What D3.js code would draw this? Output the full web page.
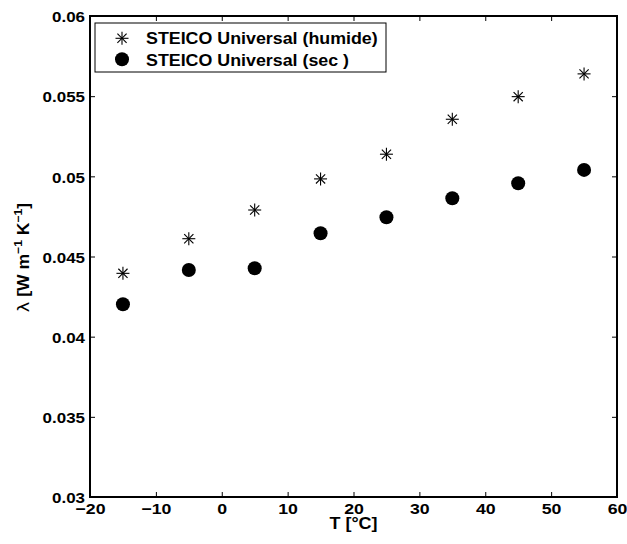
<!DOCTYPE html>
<html><head><meta charset="utf-8">
<script src="https://cdn.jsdelivr.net/npm/d3@7"></script>
<style>body{margin:0;background:#fff}svg{display:block}</style>
</head><body>
<script>
const temps = [-15, -5, 5, 15, 25, 35, 45, 55];
const humide = [0.04395, 0.04611, 0.0479, 0.04984, 0.05138, 0.05356, 0.05497, 0.05639];
const sec = [0.04202, 0.04416, 0.04427, 0.04645, 0.04745, 0.04863, 0.04957, 0.0504];
const xTicks = [-20, -10, 0, 10, 20, 30, 40, 50, 60];
const yTicks = [0.03, 0.035, 0.04, 0.045, 0.05, 0.055, 0.06];
const seriesNames = ["STEICO Universal (humide)", "STEICO Universal (sec )"];

const W = 627, H = 544;
const L = 90, R = 617, T = 16, B = 497;
const FONT = "'Liberation Sans', Arial, Helvetica, sans-serif";

const svg = d3.select("body").append("svg").attr("width", W).attr("height", H)
  .style("font-family", FONT);

const x = d3.scaleLinear().domain([-20, 60]).range([L, R]);
const y = d3.scaleLinear().domain([0.03, 0.06]).range([B, T]);

const fmtY = d => String(+d.toFixed(3));
const fmtX = d => d < 0 ? "\u2212" + Math.abs(d) : String(d);

function stretch(sel, k) {
  sel.each(function () {
    const l = this.getComputedTextLength();
    this.setAttribute("textLength", (l * k).toFixed(2));
    this.setAttribute("lengthAdjust", "spacingAndGlyphs");
  });
}

function styleAxis(g) {
  g.select(".domain").remove();
  g.selectAll("line").attr("stroke", "#000").attr("stroke-width", 1);
}

// bottom axis
svg.append("g").attr("transform", `translate(0,${B})`)
  .call(d3.axisBottom(x).tickValues(xTicks).tickSize(-5).tickPadding(6).tickFormat(fmtX))
  .call(styleAxis)
  .call(g => g.selectAll("text").attr("font-size", 15).attr("font-weight", "bold").attr("fill", "#000")
    .call(stretch, 1.18));
// top axis ticks
svg.append("g").attr("transform", `translate(0,${T})`)
  .call(d3.axisTop(x).tickValues(xTicks).tickSize(-5).tickFormat(""))
  .call(styleAxis);
// left axis
svg.append("g").attr("transform", `translate(${L},0)`)
  .call(d3.axisLeft(y).tickValues(yTicks).tickSize(-5).tickPadding(5).tickFormat(fmtY))
  .call(styleAxis)
  .call(g => g.selectAll("text").attr("font-size", 15).attr("font-weight", "bold").attr("fill", "#000")
    .attr("dy", "0.38em").call(stretch, 1.13));
// right axis ticks
svg.append("g").attr("transform", `translate(${R},0)`)
  .call(d3.axisRight(y).tickValues(yTicks).tickSize(-5).tickFormat(""))
  .call(styleAxis);

// frame
svg.append("rect").attr("x", L).attr("y", T).attr("width", R - L).attr("height", B - T)
  .attr("fill", "none").attr("stroke", "#000").attr("stroke-width", 2);

// star marker
function star(g, cx, cy, r) {
  const s = g.append("g").attr("transform", `translate(${cx},${cy})`)
    .attr("stroke", "#000").attr("stroke-width", 1.1);
  const d = r * Math.SQRT1_2;
  s.append("line").attr("x1", -r).attr("x2", r).attr("y1", 0).attr("y2", 0);
  s.append("line").attr("x1", 0).attr("x2", 0).attr("y1", -r).attr("y2", r);
  s.append("line").attr("x1", -d).attr("x2", d).attr("y1", -d).attr("y2", d);
  s.append("line").attr("x1", -d).attr("x2", d).attr("y1", d).attr("y2", -d);
}

const gStars = svg.append("g");
temps.forEach((t, i) => star(gStars, x(t), y(humide[i]), 6.5));

svg.append("g").selectAll("circle").data(temps).join("circle")
  .attr("cx", d => x(d)).attr("cy", (d, i) => y(sec[i])).attr("r", 7).attr("fill", "#000");

// legend
const lg = svg.append("g");
lg.append("rect").attr("x", 95).attr("y", 23).attr("width", 291).attr("height", 49)
  .attr("fill", "#fff").attr("stroke", "#000").attr("stroke-width", 1);
star(lg, 122, 38.3, 6.5);
lg.append("circle").attr("cx", 122).attr("cy", 59.3).attr("r", 7).attr("fill", "#000");
seriesNames.forEach((n, i) => {
  lg.append("text").attr("x", 146).attr("y", 44.3 + i * 21.4).text(n)
    .attr("font-size", 16.5).attr("font-weight", "bold").attr("fill", "#000")
    .call(stretch, 1.08);
});

// axis labels
svg.append("text").attr("x", (L + R) / 2).attr("y", 529).attr("text-anchor", "middle")
  .attr("font-size", 16).attr("font-weight", "bold").text("T [°C]").call(stretch, 1.12);

const yl = svg.append("text").attr("transform", `translate(29,${(T + B) / 2 + 1}) rotate(-90) scale(1.1,1)`)
  .attr("text-anchor", "middle").attr("font-size", 16).attr("font-weight", "bold");
yl.append("tspan").attr("font-family", "'DejaVu Sans', sans-serif").attr("font-weight", "normal").text("λ");
yl.append("tspan").text(" [W m");
yl.append("tspan").attr("dy", -7).attr("font-size", 11).text("−1");
yl.append("tspan").attr("dy", 7).text(" K");
yl.append("tspan").attr("dy", -7).attr("font-size", 11).text("−1");
yl.append("tspan").attr("dy", 7).text("]");
</script>
</body></html>
